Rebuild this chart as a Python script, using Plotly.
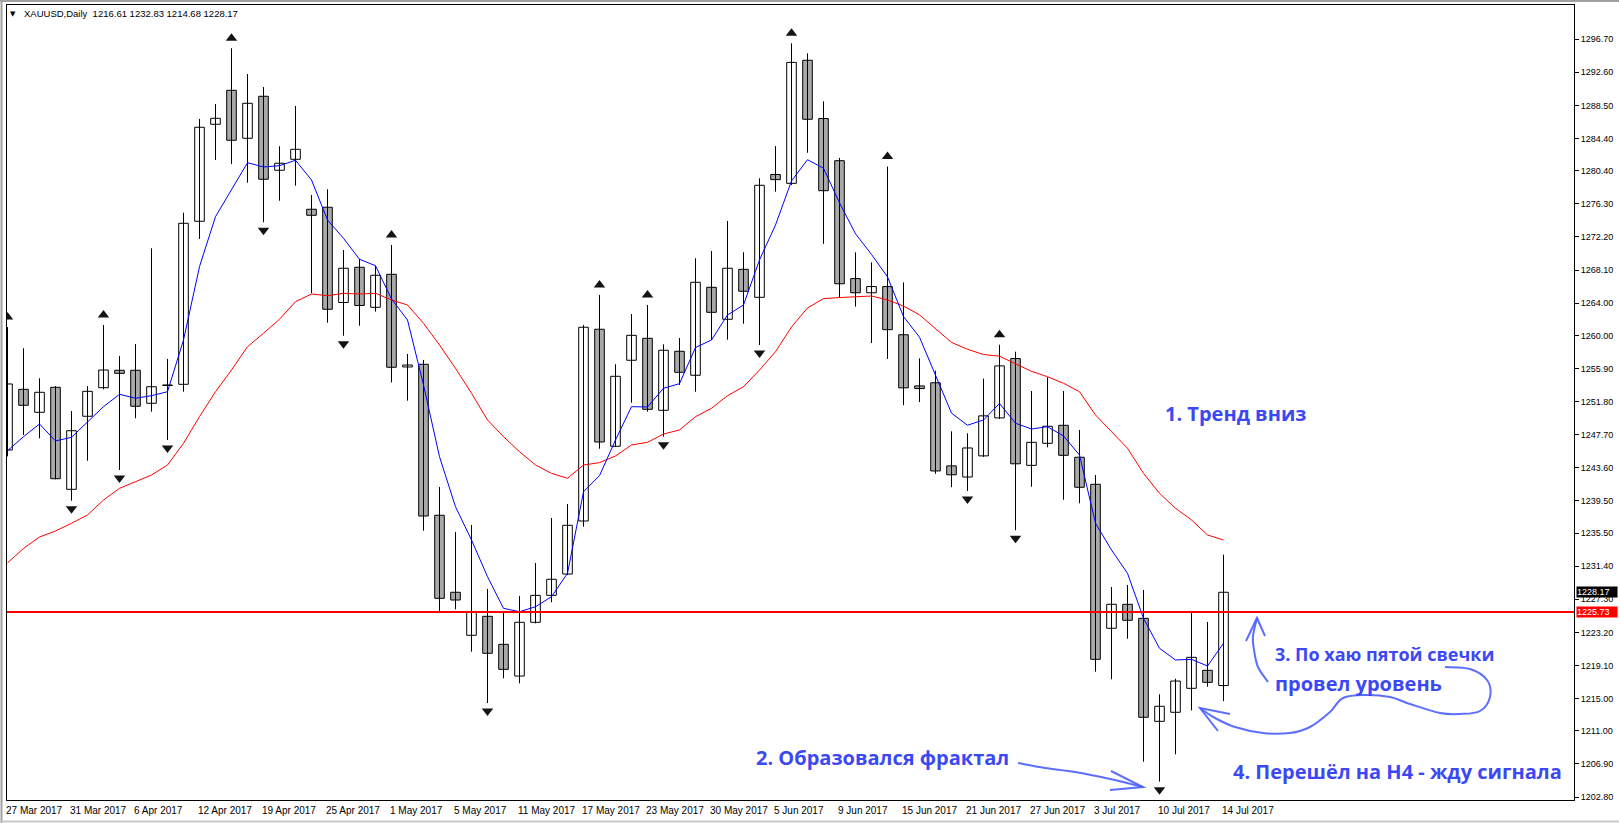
import numpy as np
import pandas as pd
import plotly.graph_objects as go

# ---------------- data ----------------
opens = [1245.80, 1253.32, 1250.47, 1253.57, 1240.93, 1249.98, 1253.52, 1255.68, 1255.68, 1251.59,
         1253.79, 1253.94, 1274.14, 1286.16, 1290.37, 1284.43, 1289.63, 1280.46, 1281.82, 1275.63,
         1275.88, 1264.08, 1268.44, 1263.48, 1267.57, 1256.09, 1256.42, 1237.71, 1228.17, 1222.84,
         1225.19, 1221.72, 1217.79, 1224.45, 1227.79, 1230.43, 1237.00, 1260.76, 1246.26, 1256.92,
         1259.64, 1250.72, 1258.03, 1255.06, 1265.96, 1262.00, 1268.19, 1264.72, 1279.94, 1278.84,
         1294.09, 1286.87, 1281.65, 1267.04, 1265.28, 1266.05, 1260.08, 1253.74, 1254.13, 1243.83,
         1242.45, 1245.07, 1249.78, 1257.13, 1243.90, 1246.63, 1248.86, 1244.90, 1241.55, 1223.71,
         1226.68, 1224.94, 1212.18, 1213.30, 1216.27, 1218.50, 1216.61]
highs = [1261.04, 1258.40, 1254.69, 1253.73, 1250.63, 1253.73, 1261.29, 1257.45, 1258.94, 1270.79,
         1257.08, 1275.21, 1286.82, 1288.68, 1295.58, 1292.39, 1290.78, 1283.44, 1288.43, 1277.40,
         1278.11, 1270.58, 1269.47, 1268.64, 1271.20, 1257.70, 1256.95, 1241.22, 1235.64, 1236.51,
         1228.58, 1225.85, 1227.71, 1231.80, 1237.37, 1239.11, 1261.29, 1265.01, 1256.42, 1262.65,
         1263.77, 1258.90, 1259.68, 1269.56, 1270.46, 1274.18, 1270.30, 1279.47, 1283.45, 1296.19,
         1294.95, 1289.00, 1282.00, 1270.29, 1269.05, 1280.92, 1266.57, 1257.16, 1255.63, 1248.11,
         1247.86, 1254.65, 1258.84, 1257.98, 1253.11, 1254.81, 1253.11, 1248.28, 1242.70, 1228.82,
         1229.07, 1228.45, 1215.53, 1217.46, 1225.73, 1224.49, 1232.83]
lows = [1245.00, 1247.66, 1247.25, 1242.17, 1239.52, 1244.47, 1253.32, 1243.32, 1249.73, 1250.55,
        1247.04, 1253.02, 1271.95, 1281.74, 1281.24, 1278.92, 1274.02, 1276.69, 1278.55, 1265.22,
        1261.57, 1259.96, 1261.20, 1262.94, 1254.17, 1251.91, 1235.80, 1225.85, 1226.06, 1220.81,
        1214.45, 1217.51, 1216.89, 1224.32, 1226.93, 1230.31, 1236.30, 1245.96, 1246.17, 1251.66,
        1250.55, 1247.45, 1253.86, 1253.02, 1259.43, 1259.47, 1261.45, 1258.81, 1277.81, 1278.64,
        1282.63, 1271.35, 1264.69, 1263.57, 1259.05, 1257.08, 1251.35, 1251.74, 1242.85, 1241.19,
        1240.72, 1244.93, 1249.64, 1235.85, 1241.25, 1246.13, 1239.64, 1239.20, 1218.33, 1217.39,
        1222.42, 1207.17, 1204.70, 1208.09, 1213.54, 1216.47, 1214.68]
closes = [1253.98, 1251.34, 1252.95, 1242.24, 1248.19, 1253.07, 1255.71, 1255.30, 1251.22, 1253.64,
          1253.86, 1273.89, 1285.79, 1286.90, 1284.18, 1288.76, 1279.35, 1281.33, 1283.06, 1274.88,
          1263.24, 1268.32, 1263.71, 1267.45, 1256.05, 1256.33, 1237.62, 1227.42, 1227.21, 1225.76,
          1220.61, 1218.62, 1224.45, 1227.79, 1229.78, 1236.47, 1261.01, 1246.79, 1254.93, 1260.01,
          1250.84, 1258.16, 1255.43, 1266.58, 1262.86, 1268.32, 1265.47, 1278.60, 1279.30, 1293.83,
          1286.78, 1277.93, 1266.40, 1265.28, 1266.05, 1260.71, 1253.50, 1253.41, 1243.20, 1242.73,
          1246.05, 1250.03, 1256.22, 1244.09, 1246.75, 1248.74, 1245.14, 1241.18, 1219.86, 1226.68,
          1224.70, 1212.68, 1214.04, 1217.17, 1220.11, 1217.01, 1228.17]
ma_fast = [1245.71, 1247.45, 1249.02, 1246.92, 1247.37, 1249.31, 1251.17, 1252.70, 1252.21, 1252.53,
           1253.02, 1259.43, 1268.52, 1274.71, 1278.02, 1281.40, 1280.87, 1281.03, 1281.70, 1279.26,
           1274.30, 1272.03, 1269.43, 1268.64, 1264.51, 1261.91, 1253.86, 1244.97, 1238.77, 1234.65,
           1230.10, 1226.18, 1225.76, 1226.38, 1227.62, 1230.52, 1240.63, 1242.62, 1247.04, 1251.17,
           1251.13, 1253.45, 1254.02, 1258.50, 1259.43, 1262.53, 1263.77, 1269.35, 1273.68, 1279.14,
           1281.77, 1280.71, 1276.43, 1272.59, 1270.03, 1267.25, 1262.33, 1259.78, 1255.07, 1250.37,
           1248.87, 1249.52, 1251.57, 1249.11, 1248.40, 1248.69, 1247.54, 1245.18, 1236.72, 1233.41,
           1230.52, 1224.94, 1221.23, 1219.78, 1219.86, 1219.03, 1221.85]
ma_slow = [1231.80, 1233.60, 1235.02, 1235.76, 1236.72, 1237.75, 1239.60, 1241.05, 1241.87, 1242.70,
           1243.94, 1246.63, 1249.93, 1253.02, 1255.71, 1258.60, 1260.26, 1262.00, 1264.18, 1265.13,
           1264.92, 1265.22, 1265.13, 1265.22, 1264.39, 1263.77, 1261.50, 1258.81, 1255.92, 1252.83,
           1249.52, 1247.45, 1245.59, 1243.94, 1242.91, 1242.29, 1243.94, 1244.23, 1245.06, 1246.42,
           1246.75, 1247.78, 1248.28, 1249.93, 1250.97, 1252.53, 1253.64, 1255.71, 1257.98, 1261.04,
           1263.40, 1264.56, 1264.69, 1264.76, 1264.88, 1264.39, 1263.64, 1262.55, 1260.84, 1259.13,
           1258.28, 1257.63, 1257.42, 1256.46, 1255.55, 1254.88, 1254.07, 1253.02, 1250.14, 1248.07,
           1246.01, 1242.91, 1240.43, 1238.58, 1237.13, 1235.27, 1234.65]
up_fractal_bars = [0, 6, 14, 24, 37, 40, 49, 55, 62]
down_fractal_bars = [4, 7, 10, 16, 21, 30, 41, 47, 60, 63, 72]
level_price = 1225.73
price_ticks = [1296.70, 1292.60, 1288.50, 1284.40, 1280.40, 1276.30, 1272.20, 1268.10, 1264.00,
               1260.00, 1255.90, 1251.80, 1247.70, 1243.60, 1239.50, 1235.50, 1231.40, 1227.30,
               1223.20, 1219.10, 1215.00, 1211.00, 1206.90, 1202.80]
holidays = ['2017-04-14', '2017-05-29', '2017-07-04']
date_label_days = ['2017-03-27', '2017-03-31', '2017-04-06', '2017-04-12', '2017-04-19', '2017-04-25',
                   '2017-05-01', '2017-05-05', '2017-05-11', '2017-05-17', '2017-05-23', '2017-05-30',
                   '2017-06-05', '2017-06-09', '2017-06-15', '2017-06-21', '2017-06-27', '2017-07-03',
                   '2017-07-10', '2017-07-14']
title_text = "XAUUSD,Daily  1216.61 1232.83 1214.68 1228.17"
notes = ["1. Тренд вниз", "2. Образовался фрактал", "3. По хаю пятой свечки",
         "провел уровень", "4. Перешёл на H4 - жду сигнала"]

# ---------------- layout geometry ----------------
W, H = 1619, 823
ML, MR, MT, MB = 7, 45, 5, 23
PW, PH = W - ML - MR, H - MT - MB
Y0, Y1 = 1202.43, 1300.94
X0 = -0.5 / 16
X1 = X0 + PW / 16.0


def pp(x, y):
    """pixel -> paper"""
    return (x - ML) / PW, (H - MB - y) / PH


def smooth(points):
    P = [pp(*p) for p in points]
    d = "M{:.5f},{:.5f}".format(*P[0])
    for i in range(len(P) - 1):
        p0 = P[i - 1] if i > 0 else P[i]
        p1, p2 = P[i], P[i + 1]
        p3 = P[i + 2] if i + 2 < len(P) else P[i + 1]
        c1 = (p1[0] + (p2[0] - p0[0]) / 6, p1[1] + (p2[1] - p0[1]) / 6)
        c2 = (p2[0] - (p3[0] - p1[0]) / 6, p2[1] - (p3[1] - p1[1]) / 6)
        d += " C{:.5f},{:.5f} {:.5f},{:.5f} {:.5f},{:.5f}".format(*c1, *c2, *p2)
    return d


def poly(points):
    P = [pp(*p) for p in points]
    return "M" + " L".join("{:.5f},{:.5f}".format(*p) for p in P)


dates = [d for d in pd.bdate_range('2017-03-27', '2017-07-14') if d.strftime('%Y-%m-%d') not in holidays]
idx = np.arange(len(dates))

o = np.array(opens); h = np.array(highs); l = np.array(lows); c = np.array(closes)
bull = c >= o

fig = go.Figure()

# wicks
wx, wy = [], []
for i in idx:
    wx += [i, i, None]
    wy += [l[i], h[i], None]
fig.add_trace(go.Scatter(x=wx, y=wy, mode='lines', line=dict(color='black', width=1),
                         hoverinfo='skip', showlegend=False))

# bodies
body_base = np.minimum(o, c)
body_h = np.maximum(np.abs(c - o), 0.05)
fig.add_trace(go.Bar(x=idx, y=body_h, base=body_base, width=0.6,
                     marker=dict(color=['#ffffff' if b else '#a9a9a9' for b in bull],
                                 line=dict(color='black', width=1)),
                     showlegend=False, hoverinfo='skip'))

# moving averages
fig.add_trace(go.Scatter(x=idx, y=ma_slow, mode='lines', line=dict(color='#ff0000', width=1),
                         showlegend=False, hoverinfo='skip'))
fig.add_trace(go.Scatter(x=idx, y=ma_fast, mode='lines', line=dict(color='#0000ff', width=1),
                         showlegend=False, hoverinfo='skip'))

# fractals
upp = (Y1 - Y0) / PH
fig.add_trace(go.Scatter(x=up_fractal_bars, y=[h[i] + 10 * upp for i in up_fractal_bars],
                         mode='markers', marker=dict(symbol='triangle-up', size=10, color='#141414',
                                                     line=dict(width=0)),
                         showlegend=False, hoverinfo='skip'))
fig.add_trace(go.Scatter(x=down_fractal_bars, y=[l[i] - 8 * upp for i in down_fractal_bars],
                         mode='markers', marker=dict(symbol='triangle-down', size=10, color='#141414',
                                                     line=dict(width=0)),
                         showlegend=False, hoverinfo='skip'))

shapes = []
# horizontal level
shapes.append(dict(type='line', xref='paper', x0=0, x1=1, yref='y', y0=level_price, y1=level_price,
                   line=dict(color='#ff0000', width=2)))
# window chrome
shapes.append(dict(type='line', xref='paper', yref='paper', x0=pp(1.5, 0)[0], x1=pp(1.5, 0)[0],
                   y0=pp(0, 0)[1], y1=pp(0, 823)[1], line=dict(color='#a0a0a0', width=2)))
shapes.append(dict(type='line', xref='paper', yref='paper', x0=pp(0, 0)[0], x1=pp(1619, 0)[0],
                   y0=pp(0, 1)[1], y1=pp(0, 1)[1], line=dict(color='#a0a0a0', width=2)))
shapes.append(dict(type='line', xref='paper', yref='paper', x0=pp(0, 0)[0], x1=pp(1619, 0)[0],
                   y0=pp(0, 821.5)[1], y1=pp(0, 821.5)[1], line=dict(color='#c8c8c8', width=2)))

pen = dict(color='rgba(75,95,255,0.9)', width=2)
# arrow 2 -> fractal
shapes.append(dict(type='path', xref='paper', yref='paper', line=pen,
                   path=smooth([(1018, 763), (1045, 768), (1075, 772), (1110, 779), (1143, 787)])))
shapes.append(dict(type='path', xref='paper', yref='paper', line=pen,
                   path=poly([(1111, 771), (1143, 787), (1110, 790)])))
# arrow 3 -> level
shapes.append(dict(type='path', xref='paper', yref='paper', line=pen,
                   path=smooth([(1268, 682), (1258, 667), (1254, 650), (1253, 636), (1257, 618)])))
shapes.append(dict(type='path', xref='paper', yref='paper', line=pen,
                   path=poly([(1246, 641), (1257, 618), (1265, 636)])))
# loop arrow 4 -> fifth candle
shapes.append(dict(type='path', xref='paper', yref='paper', line=pen,
                   path=smooth([(1445, 667), (1470, 669), (1487, 680), (1490, 697), (1480, 711),
                                (1460, 714), (1440, 713), (1410, 704), (1390, 697), (1365, 695),
                                (1343, 698), (1330, 712), (1310, 727), (1290, 733), (1263, 733),
                                (1235, 727), (1215, 718), (1200, 708)])))
shapes.append(dict(type='path', xref='paper', yref='paper', line=pen,
                   path=poly([(1230, 714), (1200, 708), (1218, 731)])))

ann = []
axfont = dict(family='Liberation Sans, Arial, sans-serif', size=9, color='black')
datefont = dict(family='Liberation Sans, Arial, sans-serif', size=10, color='black')
# date labels
for ds in date_label_days:
    d = pd.Timestamp(ds)
    i = [k for k, dd in enumerate(dates) if dd == d][0]
    ann.append(dict(x=i, xref='x', y=0, yref='paper', yanchor='top', xanchor='left', xshift=-4, yshift=-3,
                    text=f"{d.day} {d.strftime('%b')} {d.year}", showarrow=False, font=datefont))
# title
tx, ty = pp(13, 14)
ann.append(dict(x=tx, y=ty, xref='paper', yref='paper', xanchor='center', yanchor='middle',
                text='▼', showarrow=False, font=dict(family='DejaVu Sans', size=7, color='black')))
tx, ty = pp(22, 14)
ann.append(dict(x=tx, y=ty, xref='paper', yref='paper', xanchor='left', yanchor='middle',
                text=title_text, showarrow=False,
                font=dict(family='Liberation Sans, Arial, sans-serif', size=9.5, color='black')))
# price boxes
ann.append(dict(x=1, xref='paper', y=closes[-1], yref='y', xanchor='left', yanchor='middle', xshift=2,
                text=f"{closes[-1]:.2f}", showarrow=False, bgcolor='black', width=40, height=10,
                borderpad=0, align='left', font=dict(axfont, color='white')))
ann.append(dict(x=1, xref='paper', y=level_price, yref='y', xanchor='left', yanchor='middle', xshift=2,
                text=f"{level_price:.2f}", showarrow=False, bgcolor='#ff0000', width=40, height=10,
                borderpad=0, align='left', font=dict(axfont, color='white')))
# notes
note_pos = [(1163, 413), (754, 757), (1273, 654), (1273, 683), (1231, 771)]
note_size = [20, 20, 18, 20, 20]
for t, (x, y), s in zip(notes, note_pos, note_size):
    nx, ny = pp(x, y)
    ann.append(dict(x=nx, y=ny, xref='paper', yref='paper', xanchor='left', yanchor='middle',
                    text=t, showarrow=False,
                    font=dict(family='Open Sans, Noto Sans, sans-serif', size=s,
                              color='rgb(60,72,245)', weight='bold')))

fig.update_layout(
    width=W, height=H, margin=dict(l=ML, r=MR, t=MT, b=MB, pad=0),
    paper_bgcolor='white', plot_bgcolor='white', barmode='overlay', showlegend=False,
    xaxis=dict(range=[X0, X1], showgrid=False, zeroline=False, showticklabels=False, ticks='',
               showline=True, mirror=True, linecolor='black', linewidth=1, fixedrange=True),
    yaxis=dict(range=[Y0, Y1], side='right', showgrid=False, zeroline=False,
               tickvals=price_ticks, ticktext=[f"{v:.2f}" for v in price_ticks],
               ticks='outside', ticklen=4, tickcolor='black', tickwidth=1, tickfont=axfont,
               showline=True, mirror=True, linecolor='black', linewidth=1, fixedrange=True),
    shapes=shapes, annotations=ann,
)

fig.write_html("out.html")
